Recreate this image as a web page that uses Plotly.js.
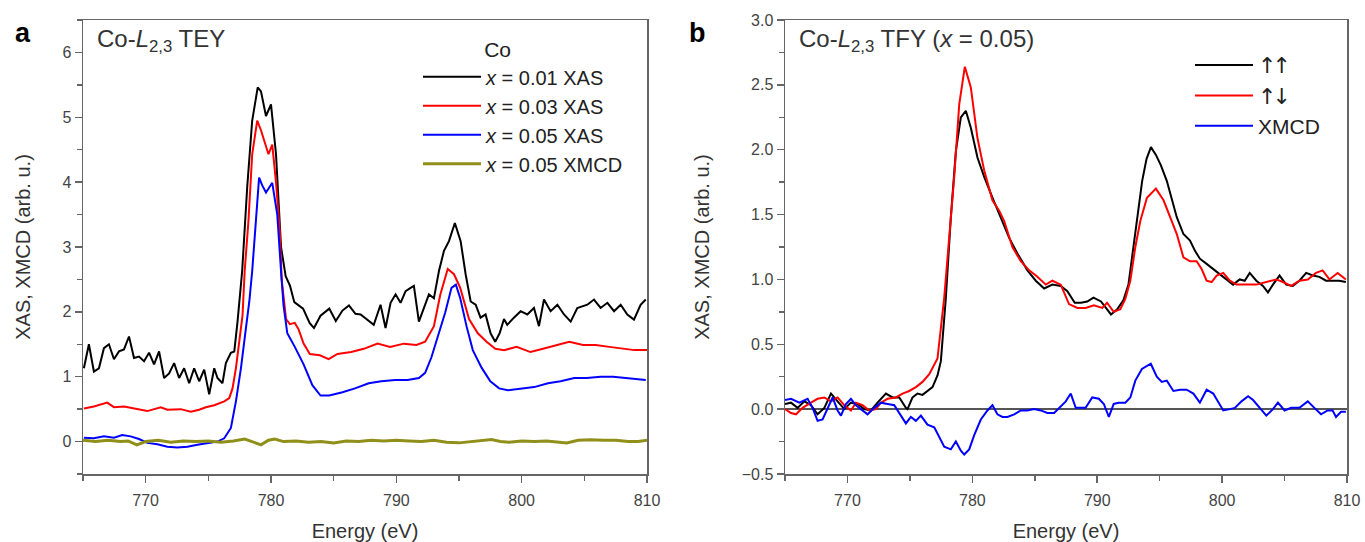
<!DOCTYPE html>
<html><head><meta charset="utf-8">
<script src="https://cdn.plot.ly/plotly-3.0.1.min.js"></script>
<style>html,body{margin:0;padding:0;background:#fff}#chart{width:1365px;height:542px}</style>
</head><body><div id="chart"></div>
<script>
// ---------- Panel a : Co-L2,3 TEY ----------
const aE001 = [765.07,765.47,765.87,766.27,766.67,767.07,767.47,767.87,768.27,768.67,769.07,769.47,769.87,770.27,770.67,771.07,771.47,771.87,772.27,772.67,773.07,773.47,773.87,774.27,774.67,775.07,775.47,775.73,776.13,776.40,776.80,777.07,777.33,777.47,777.70,778.10,778.50,778.94,779.20,779.60,780.00,780.40,780.80,781.17,781.52,781.86,782.21,782.56,783.08,783.43,783.95,784.65,785.17,785.70,786.22,786.74,787.15,787.68,788.20,788.74,789.14,789.54,789.94,790.34,790.74,791.14,791.40,791.80,792.20,792.60,793.00,793.40,793.80,794.20,794.67,795.13,795.53,795.93,796.33,796.72,797.12,797.52,797.89,798.24,798.59,798.85,799.38,799.92,800.45,800.98,801.38,801.78,802.31,802.85,803.38,803.91,804.44,805.24,805.77,806.30,806.84,807.37,807.90,808.43,808.96,809.49,809.90];
const aY001 = [1.13,1.50,1.08,1.13,1.44,1.50,1.27,1.39,1.42,1.62,1.29,1.31,1.24,1.37,1.19,1.39,0.98,1.05,1.21,0.98,1.13,0.90,1.13,0.93,1.11,0.73,1.13,0.98,0.90,1.21,1.37,1.39,1.85,2.16,2.63,3.92,4.95,5.46,5.40,5.02,5.20,4.43,3.00,2.55,2.40,2.15,2.10,2.05,1.83,1.75,1.94,2.05,1.86,2.02,2.10,1.97,1.96,1.88,1.80,2.11,1.75,2.14,2.27,2.14,2.32,2.37,2.40,1.85,2.05,2.27,2.21,2.63,2.94,3.09,3.37,3.09,2.58,2.16,2.11,1.91,1.96,1.67,1.54,1.67,1.89,1.80,1.91,2.01,1.96,2.06,1.78,2.19,2.01,2.11,1.96,1.85,2.06,2.11,2.19,2.06,2.14,2.01,2.11,1.96,1.88,2.11,2.19];

const aE003 = [765.07,765.87,766.93,767.47,768.27,769.07,770.13,771.20,771.73,772.80,773.60,774.27,774.80,775.47,776.27,776.67,776.93,777.20,777.47,777.73,777.90,778.20,778.50,778.90,779.20,779.80,780.10,780.40,780.70,780.85,781.20,781.50,781.90,782.20,782.60,783.10,783.90,784.60,785.30,786.40,787.40,788.50,789.50,790.60,791.60,792.30,793.00,793.50,794.10,794.60,795.10,795.80,796.50,797.20,797.90,798.60,799.60,800.70,801.70,802.80,803.80,804.90,805.90,807.00,808.00,809.00,810.00];
const aY003 = [0.51,0.54,0.60,0.53,0.54,0.51,0.47,0.53,0.49,0.50,0.46,0.49,0.53,0.56,0.62,0.67,0.82,1.13,1.54,1.95,2.63,3.40,4.43,4.95,4.80,4.43,4.58,4.00,3.25,2.50,1.89,1.81,1.83,1.73,1.51,1.35,1.33,1.27,1.35,1.38,1.43,1.51,1.46,1.51,1.49,1.54,1.78,2.26,2.66,2.58,2.37,1.89,1.67,1.54,1.43,1.41,1.46,1.38,1.43,1.49,1.54,1.49,1.49,1.46,1.43,1.41,1.41];

const aE005 = [765.07,765.87,766.67,767.47,768.13,768.80,769.47,770.13,770.93,771.73,772.53,773.33,774.13,774.93,775.73,776.27,776.80,777.20,777.60,778.00,778.27,778.50,778.80,779.05,779.30,779.60,780.10,780.50,780.80,781.00,781.30,781.90,782.60,783.30,783.95,784.65,785.70,786.70,787.80,788.80,789.90,790.90,791.80,792.30,792.80,793.40,793.90,794.40,794.75,795.10,795.60,796.10,796.80,797.50,798.20,798.90,800.00,801.00,802.10,803.10,804.20,805.20,806.30,807.30,808.30,809.90];
const aY005 = [0.06,0.05,0.08,0.06,0.10,0.08,0.04,-0.02,-0.04,-0.08,-0.09,-0.08,-0.05,-0.02,0.00,0.05,0.21,0.62,1.13,1.75,2.16,2.63,3.40,4.07,3.95,3.84,3.99,3.50,2.63,2.10,1.67,1.46,1.19,0.87,0.71,0.71,0.76,0.82,0.90,0.93,0.95,0.95,0.98,1.06,1.30,1.67,1.99,2.37,2.42,2.21,1.78,1.41,1.14,0.93,0.82,0.79,0.82,0.84,0.90,0.93,0.98,0.98,1.00,1.00,0.98,0.95];

const aEmcd = [765.0,766.0,767.0,768.0,768.6,769.3,770.0,771.0,772.0,773.0,774.0,775.0,776.0,777.0,777.9,778.5,779.2,779.8,780.3,781.0,782.0,783.0,784.0,785.0,786.0,787.0,788.0,789.0,790.0,791.0,792.0,793.0,794.0,795.0,796.0,797.0,797.6,798.3,799.0,800.0,801.0,802.0,803.0,803.6,804.5,805.5,806.5,807.5,808.5,809.3,810.0];
const aYmcd = [0.02,0.00,0.02,0.00,0.01,-0.05,0.00,0.02,-0.01,0.01,0.00,0.01,-0.01,0.01,0.04,0.00,-0.05,0.02,0.04,0.00,0.01,-0.01,0.00,-0.02,0.01,0.00,0.02,0.01,0.02,0.01,0.00,0.02,-0.01,-0.02,0.00,0.01,0.03,0.00,-0.01,0.01,0.00,0.01,-0.01,-0.02,0.02,0.03,0.02,0.02,0.00,0.00,0.02];

// ---------- Panel b : Co-L2,3 TFY (x = 0.05) ----------
const bEuu = [765.00,765.48,766.01,766.55,767.08,767.61,768.15,768.68,769.21,769.75,770.28,770.81,771.35,771.88,772.41,773.08,773.61,774.15,774.68,774.81,775.21,775.61,776.01,776.41,776.81,777.21,777.48,777.88,778.28,778.68,779.08,779.48,779.88,780.41,780.95,781.61,782.28,782.95,783.61,784.41,785.08,785.75,786.41,787.08,787.61,788.20,788.70,789.20,789.70,790.30,790.70,791.10,791.60,792.10,792.50,792.90,793.30,793.60,793.95,794.30,794.70,795.10,795.57,795.97,796.37,796.90,797.43,797.83,798.22,798.76,799.29,799.82,800.35,800.88,801.41,801.81,802.21,802.74,803.27,803.67,804.07,804.60,805.13,805.66,806.19,806.73,807.26,807.79,808.32,808.85,809.38,809.91];
const bYuu = [0.04,0.05,0.01,0.06,0.03,-0.04,0.01,0.12,0.06,0.00,0.05,0.04,0.00,-0.01,0.05,0.12,0.09,0.09,0.01,0.00,0.09,0.12,0.11,0.14,0.17,0.26,0.37,0.86,1.48,1.99,2.25,2.30,2.17,1.94,1.79,1.63,1.48,1.32,1.20,1.07,0.99,0.93,0.96,0.95,0.91,0.82,0.82,0.83,0.86,0.83,0.78,0.73,0.77,0.84,0.96,1.25,1.55,1.76,1.93,2.02,1.96,1.88,1.76,1.61,1.48,1.35,1.30,1.22,1.16,1.12,1.08,1.04,1.00,0.96,1.00,0.99,1.05,0.99,0.95,0.90,0.96,1.03,0.96,0.95,0.99,1.05,1.03,1.02,0.99,0.99,0.99,0.98];

const bEud = [765.00,765.48,765.88,766.41,767.08,767.61,768.15,768.68,769.21,769.75,770.28,770.68,771.21,771.75,772.28,772.68,773.21,773.88,774.41,774.95,775.48,776.01,776.55,776.95,777.21,777.75,778.15,778.55,778.95,779.40,779.88,780.41,780.95,781.61,782.15,782.55,783.21,783.88,784.55,785.21,785.88,786.41,787.08,787.74,788.41,789.07,789.73,790.40,790.79,791.32,791.85,792.25,792.65,793.05,793.45,793.98,794.70,795.31,795.84,796.37,796.90,797.43,797.96,798.36,798.76,799.16,799.56,800.09,800.62,801.15,801.95,802.74,803.54,804.34,804.87,805.53,806.19,806.86,807.52,808.05,808.59,809.25,809.91];
const bYud = [0.00,-0.03,-0.04,0.01,0.05,0.08,0.09,0.06,0.09,0.03,-0.01,0.05,0.03,-0.01,0.00,0.05,0.08,0.09,0.12,0.14,0.17,0.21,0.27,0.35,0.39,0.86,1.32,1.79,2.35,2.64,2.48,2.09,1.84,1.61,1.53,1.45,1.25,1.14,1.07,1.02,0.96,0.99,0.96,0.81,0.78,0.78,0.80,0.78,0.82,0.75,0.77,0.85,0.99,1.25,1.45,1.63,1.70,1.61,1.48,1.35,1.17,1.14,1.14,1.08,0.99,0.98,1.03,1.05,0.99,0.96,0.96,0.96,0.98,1.00,0.98,0.95,0.99,1.00,1.05,1.07,1.00,1.05,1.00];

const bEmcd = [765.00,765.48,766.15,766.81,767.21,767.61,768.01,768.41,768.81,769.21,769.48,769.88,770.28,770.68,771.08,771.61,772.15,772.68,773.21,773.75,774.28,774.68,775.08,775.48,775.88,776.41,776.95,777.35,777.75,778.28,778.68,779.08,779.35,779.75,780.15,780.68,781.21,781.61,782.01,782.41,782.81,783.35,783.88,784.41,784.95,785.48,786.01,786.55,787.08,787.48,787.88,788.28,788.67,789.07,789.60,790.13,790.53,790.93,791.32,791.72,792.25,792.65,793.05,793.58,794.29,794.77,795.17,795.57,796.10,796.63,797.16,797.70,798.22,798.76,799.29,799.69,800.09,800.62,801.02,801.55,802.08,802.48,803.01,803.54,804.07,804.47,805.00,805.53,806.19,806.86,807.39,807.92,808.45,808.85,809.12,809.52,809.91];
const bYmcd = [0.07,0.08,0.05,0.08,0.01,-0.09,-0.08,0.01,0.09,-0.01,-0.05,0.04,0.08,0.03,0.00,-0.04,0.01,0.05,0.04,0.03,-0.05,-0.11,-0.06,-0.09,-0.05,-0.12,-0.14,-0.22,-0.29,-0.31,-0.25,-0.32,-0.35,-0.31,-0.20,-0.08,-0.01,0.03,-0.04,-0.06,-0.06,-0.04,-0.01,-0.01,0.00,-0.01,-0.03,-0.03,0.02,0.06,0.12,0.01,0.01,0.01,0.09,0.08,0.04,-0.06,0.04,0.05,0.05,0.09,0.22,0.31,0.35,0.25,0.21,0.22,0.14,0.15,0.15,0.12,0.05,0.15,0.12,0.05,-0.01,0.00,0.01,0.06,0.10,0.07,0.01,-0.05,0.00,0.05,-0.01,0.01,0.01,0.06,0.01,-0.04,-0.01,-0.01,-0.06,-0.02,-0.02];

const ARROW = 'font-family:\'DejaVu Sans\';font-size:22px;letter-spacing:-4px';
const namesA = ['<i>x</i> = 0.01 XAS','<i>x</i> = 0.03 XAS','<i>x</i> = 0.05 XAS','<i>x</i> = 0.05 XMCD'];
const namesB = ['<span style="' + ARROW + '">\u2191\u2191</span>','<span style="' + ARROW + '">\u2191\u2193</span>','XMCD'];
const xTickVals = [770,780,790,800,810];

const FONT = 'Arial, "Liberation Sans", "DejaVu Sans", sans-serif';
const AX = '#666';

function ln(x, y, color, w, name, xa, ya, leg, grp){
  return {x:x, y:y, xaxis:xa, yaxis:ya, type:'scatter', mode:'lines', name:name,
          line:{color:color, width:w}, legend:leg, legendgroup:grp, hoverinfo:'skip'};
}
const data = [
  ln(aE001, aY001, '#000000', 2, namesA[0], 'x', 'y', 'legend', 'a1'),
  ln(aE003, aY003, '#ff0000', 2, namesA[1], 'x', 'y', 'legend', 'a2'),
  ln(aE005, aY005, '#0000ff', 2, namesA[2], 'x', 'y', 'legend', 'a3'),
  ln(aEmcd, aYmcd, '#8f8f1a', 3, namesA[3], 'x', 'y', 'legend', 'a4'),
  ln(bEuu, bYuu, '#000000', 2, namesB[0], 'x2', 'y2', 'legend2', 'b1'),
  ln(bEud, bYud, '#ff0000', 2, namesB[1], 'x2', 'y2', 'legend2', 'b2'),
  ln(bEmcd, bYmcd, '#0000ff', 2, namesB[2], 'x2', 'y2', 'legend2', 'b3')
];

function xaxis(domain, anchor){
  return {domain:domain, anchor:anchor, range:[765,810], tickvals:xTickVals, ticks:'outside', ticklen:7, tickwidth:1.5, tickcolor:AX,
    showline:true, linecolor:AX, linewidth:1.5, mirror:true, showgrid:false, zeroline:false,
    ticklabelstandoff:4,
    tickfont:{size:16, color:'#444', family:FONT},
    title:{text:'Energy (eV)', font:{size:20, color:'#333', family:FONT}, standoff:20},
    minor:{dtick:5, tick0:765, ticks:'outside', ticklen:5, tickwidth:1.5, tickcolor:AX, showgrid:false}};
}
function yaxis(range, dtick, mdtick, fmt, anchor, zl){
  return {domain:[0,1], anchor:anchor, range:range, dtick:dtick, tick0:0, tickformat:fmt, ticks:'outside', ticklen:7, tickwidth:1.5, tickcolor:AX,
    showline:true, linecolor:AX, linewidth:1.5, mirror:true, showgrid:false,
    zeroline:zl, zerolinecolor:'#555', zerolinewidth:1.3,
    tickfont:{size:16, color:'#444', family:FONT},
    title:{text:'XAS, XMCD (arb. u.)', font:{size:20, color:'#333', family:FONT}, standoff:26},
    minor:{dtick:mdtick, ticks:'outside', ticklen:5, tickwidth:1.5, tickcolor:AX, showgrid:false}};
}

const layout = {
  width:1365, height:542, margin:{l:0, r:0, t:20, b:68},
  paper_bgcolor:'#fff', plot_bgcolor:'#fff', showlegend:true,
  font:{family:FONT, color:'#333'},
  xaxis: xaxis([83/1365, 647/1365], 'y'),
  yaxis: yaxis([-0.5, 6.5], 1, 0.5, 'd', 'x', false),
  xaxis2: xaxis([785/1365, 1347/1365], 'y2'),
  yaxis2: yaxis([-0.5, 3.0], 0.5, 0.25, '.1f', 'x2', true),
  legend:{x:418/1365, xanchor:'left', y:0.978, yanchor:'top', bgcolor:'rgba(0,0,0,0)', borderwidth:0,
    font:{size:20, color:'#222', family:FONT}, itemwidth:58, tracegroupgap:0,
    title:{text:'\u00a0\u00a0\u00a0\u00a0\u00a0\u00a0\u00a0\u00a0\u00a0\u00a0\u00a0Co', side:'top', font:{size:21, color:'#222', family:FONT}}},
  legend2:{x:1190/1365, xanchor:'left', y:0.945, yanchor:'top', bgcolor:'rgba(0,0,0,0)', borderwidth:0,
    font:{size:21, color:'#222', family:FONT}, itemwidth:58, tracegroupgap:0},
  annotations:[
    {text:'<b>a</b>', xref:'paper', yref:'paper', x:23/1365, y:(474-33)/454, xanchor:'center', yanchor:'middle', showarrow:false, font:{size:27, color:'#000', family:FONT}},
    {text:'<b>b</b>', xref:'paper', yref:'paper', x:697/1365, y:(474-33)/454, xanchor:'center', yanchor:'middle', showarrow:false, font:{size:27, color:'#000', family:FONT}},
    {text:'Co-<i>L</i><sub>2,3</sub> TEY', xref:'x domain', yref:'paper', x:0.022, y:(474-40)/454, xanchor:'left', yanchor:'middle', showarrow:false, font:{size:24, color:'#333', family:FONT}},
    {text:'Co-<i>L</i><sub>2,3</sub> TFY (<i>x</i> = 0.05)', xref:'x2 domain', yref:'paper', x:0.022, y:(474-40)/454, xanchor:'left', yanchor:'middle', showarrow:false, font:{size:24, color:'#333', family:FONT}}
  ]
};
Plotly.newPlot('chart', data, layout, {displayModeBar:false, staticPlot:true});
</script>
</body></html>
